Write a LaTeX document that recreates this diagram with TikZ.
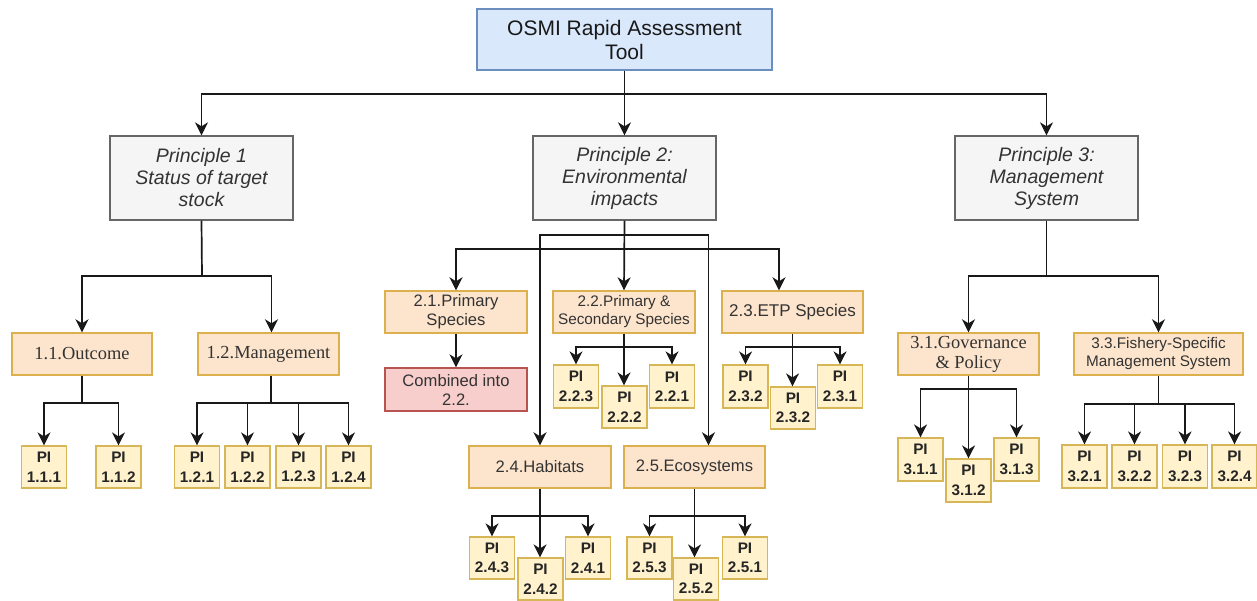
\documentclass[tikz,border=0pt]{standalone}
\usepackage{fontspec}
\setmainfont{Liberation Serif}
\newfontfamily\arialf{Liberation Sans}
\newfontfamily\tnrf{Liberation Serif}
\usetikzlibrary{arrows.meta}
\definecolor{topfill}{HTML}{DAE8FC}
\definecolor{topdraw}{HTML}{6C8EBF}
\definecolor{prfill}{HTML}{F5F5F5}
\definecolor{prdraw}{HTML}{666666}
\definecolor{prtext}{HTML}{333333}
\definecolor{catfill}{HTML}{FDE5CD}
\definecolor{catdraw}{HTML}{DCB04C}
\definecolor{pifill}{HTML}{FFF2CC}
\definecolor{pidraw}{HTML}{D6B656}
\definecolor{cbfill}{HTML}{F8CECC}
\definecolor{cbdraw}{HTML}{B85450}
\tikzset{
  topbox/.style={draw=topdraw, fill=topfill, line width=1.3pt, minimum width=295pt, minimum height=61pt, inner sep=0pt, align=center, text=black!90, font=\arialf\fontsize{21}{24}\selectfont},
  prbox/.style={draw=prdraw, fill=prfill, line width=1.3pt, minimum width=183pt, minimum height=84pt, inner sep=0pt, align=center, text=prtext, font=\arialf\itshape\fontsize{19.5}{22}\selectfont},
  catbox/.style={draw=catdraw, fill=catfill, line width=1.4pt, minimum width=141pt, minimum height=42pt, inner sep=0pt, align=center, text=prtext, font=\arialf\fontsize{16.6}{19}\selectfont},
  catsmall/.style={catbox, font=\arialf\fontsize{15.3}{18}\selectfont},
  catserif/.style={catbox, font=\tnrf\fontsize{18.4}{20}\selectfont},
  cbbox/.style={draw=cbdraw, fill=cbfill, line width=1.3pt, minimum width=142pt, minimum height=43pt, inner sep=0pt, align=center, text=prtext, font=\arialf\fontsize{16.6}{19}\selectfont},
  pibox/.style={draw=pidraw, fill=pifill, line width=1.2pt, minimum width=45pt, minimum height=42pt, inner sep=0pt, align=center, text=black!85, font=\arialf\bfseries\fontsize{15.3}{19.5}\selectfont},
  arr/.style={draw=black!90, line width=1.7pt, -{Stealth[length=13pt,width=13pt,inset=4pt]}},
  ln/.style={draw=black!90, line width=1.7pt}
}
\begin{document}
\begin{tikzpicture}[x=1pt,y=-1pt]
\useasboundingbox (0,0) rectangle (1257,601);
% top
\node[topbox] (top) at (624.5,39.5) {OSMI Rapid Assessment\\Tool};
\node[prbox] (p1) at (201.5,178) {Principle 1\\Status of target\\stock};
\node[prbox] (p2) at (624.5,178) {Principle 2:\\Environmental\\impacts};
\node[prbox] (p3) at (1046.5,178) {Principle 3:\\Management\\System};
% principle 1
\node[catserif, minimum width=140pt] (o11) at (82,354) {1.1.Outcome};
\node[catserif] (o12) at (268.5,354) {1.2.Management};
\node[pibox] (pi111) at (44,467) {PI\\1.1.1};
\node[pibox] (pi112) at (118.5,467) {PI\\1.1.2};
\node[pibox] (pi121) at (197,467) {PI\\1.2.1};
\node[pibox] (pi122) at (247.5,467) {PI\\1.2.2};
\node[pibox] (pi123) at (298.5,467) {PI\\1.2.3};
\node[pibox] (pi124) at (348.5,467) {PI\\1.2.4};
% principle 2
\node[catbox, minimum width=142pt] (o21) at (456,312) {2.1.Primary\\Species};
\node[cbbox] (comb) at (456,389.5) {Combined into\\2.2.};
\node[catsmall, minimum width=142pt] (o22) at (624,312) {2.2.Primary \&\\Secondary Species};
\node[catbox, font=\arialf\fontsize{17}{19}\selectfont] (o23) at (792.5,312) {2.3.ETP Species};
\node[pibox, minimum height=43pt] (pi223) at (576,386.5) {PI\\2.2.3};
\node[pibox] (pi222) at (624.5,407) {PI\\2.2.2};
\node[pibox, minimum height=43pt] (pi221) at (672,386.5) {PI\\2.2.1};
\node[pibox, minimum height=43pt] (pi232a) at (745.5,386.5) {PI\\2.3.2};
\node[pibox] (pi232b) at (793,408) {PI\\2.3.2};
\node[pibox, minimum height=43pt] (pi231) at (840,386.5) {PI\\2.3.1};
\node[catbox, minimum width=142pt] (o24) at (540,467) {2.4.Habitats};
\node[catbox] (o25) at (694.5,467) {2.5.Ecosystems};
\node[pibox] (pi243) at (492,558) {PI\\2.4.3};
\node[pibox] (pi242) at (540.5,579) {PI\\2.4.2};
\node[pibox] (pi241) at (588,558) {PI\\2.4.1};
\node[pibox] (pi253) at (649.5,558) {PI\\2.5.3};
\node[pibox] (pi252) at (696,579) {PI\\2.5.2};
\node[pibox] (pi251) at (745,558) {PI\\2.5.1};
% principle 3
\node[catserif] (o31) at (968.5,354) {3.1.Governance\\\& Policy};
\node[catsmall, minimum width=169pt] (o33) at (1158.5,354) {3.3.Fishery-Specific\\Management System};
\node[pibox, minimum height=43pt] (pi311) at (920.5,459.5) {PI\\3.1.1};
\node[pibox, minimum height=43pt] (pi312) at (968.5,480.5) {PI\\3.1.2};
\node[pibox, minimum height=43pt] (pi313) at (1016.5,459.5) {PI\\3.1.3};
\node[pibox, minimum height=43pt] (pi321) at (1084.5,466.5) {PI\\3.2.1};
\node[pibox, minimum height=43pt] (pi322) at (1134.5,466.5) {PI\\3.2.2};
\node[pibox, minimum height=43pt] (pi323) at (1185,466.5) {PI\\3.2.3};
\node[pibox, minimum height=43pt] (pi324) at (1234.5,466.5) {PI\\3.2.4};
% junction coordinates
\coordinate (j0) at (624.5,94);
\coordinate (j1) at (202,276);
\coordinate (j11) at (82,403);
\coordinate (j12) at (271,403);
\coordinate (j2a) at (624.5,235);
\coordinate (j2b) at (624.5,249);
\coordinate (j22) at (624,347);
\coordinate (j23) at (792.5,347);
\coordinate (j24) at (540,516);
\coordinate (j25) at (694.5,516);
\coordinate (j3) at (1046.5,276);
\coordinate (j31) at (968.5,389);
\coordinate (j33) at (1158.5,404);
% top level
\draw[arr] (top.south) -- (p2.north);
\draw[arr] (j0) -| (p1.north);
\draw[arr] (j0) -| (p3.north);
% principle 1
\draw[ln] (p1.south) -- (j1);
\draw[arr] (j1) -| (o11.north);
\draw[arr] (j1) -| ([xshift=3pt]o12.north);
\draw[ln] (o11.south) -- (j11);
\draw[arr] (j11) -| (pi111.north);
\draw[arr] (j11) -| (pi112.north);
\draw[ln] ([xshift=2.5pt]o12.south) -- (j12);
\draw[arr] (j12) -| (pi121.north);
\draw[arr] (j12) -| (pi122.north);
\draw[arr] (j12) -| (pi123.north);
\draw[arr] (j12) -| (pi124.north);
% principle 2
\draw[arr] (p2.south) -- (o22.north);
\draw[arr] (j2a) -| (o24.north);
\draw[arr] (j2a) -| ([xshift=14pt]o25.north);
\draw[arr] (j2b) -| (o21.north);
\draw[arr] (j2b) -| ([xshift=-13.5pt]o23.north);
\draw[arr] (o21.south) -- (comb.north);
\draw[arr] (o22.south) -- (o22.south |- pi222.north);
\draw[arr] (j22) -| (pi223.north);
\draw[arr] (j22) -| (pi221.north);
\draw[arr] (o23.south) -- (o23.south |- pi232b.north);
\draw[arr] (j23) -| (pi232a.north);
\draw[arr] (j23) -| (pi231.north);
\draw[arr] (o24.south) -- (o24.south |- pi242.north);
\draw[arr] (j24) -| (pi243.north);
\draw[arr] (j24) -| (pi241.north);
\draw[arr] (o25.south) -- (o25.south |- pi252.north);
\draw[arr] (j25) -| (pi253.north);
\draw[arr] (j25) -| (pi251.north);
% principle 3
\draw[ln] (p3.south) -- (j3);
\draw[arr] (j3) -| (o31.north);
\draw[arr] (j3) -| (o33.north);
\draw[arr] (o31.south) -- (pi312.north);
\draw[arr] (j31) -| (pi311.north);
\draw[arr] (j31) -| (pi313.north);
\draw[ln] (o33.south) -- (j33);
\draw[arr] (j33) -| (pi321.north);
\draw[arr] (j33) -| (pi322.north);
\draw[arr] (j33) -| (pi323.north);
\draw[arr] (j33) -| (pi324.north);
\end{tikzpicture}
\end{document}
